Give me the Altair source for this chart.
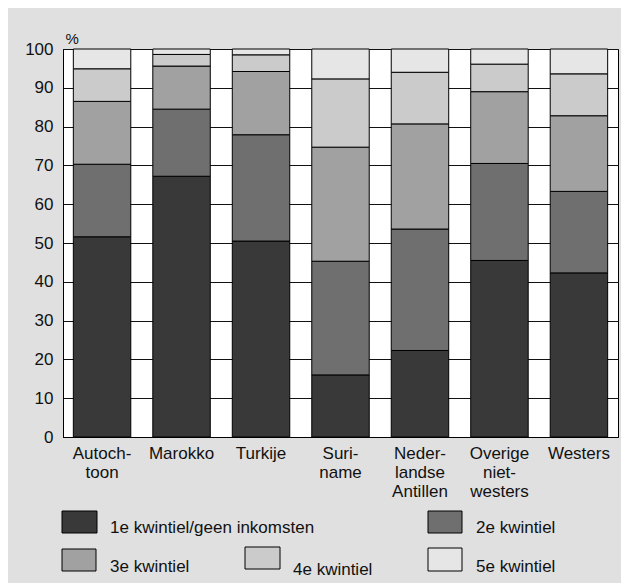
import altair as alt
import pandas as pd

categories = ["Autoch-|toon", "Marokko", "Turkije", "Suri-|name",
              "Neder-|landse|Antillen", "Overige|niet-|westers", "Westers"]
series = ["1e kwintiel/geen inkomsten", "2e kwintiel", "3e kwintiel",
          "4e kwintiel", "5e kwintiel"]
colors = ["#393939", "#6f6f6f", "#a1a1a1", "#cbcbcb", "#e6e6e6"]

q1 = [51.6, 67.2, 50.5, 16.0, 22.3, 45.5, 42.3]
q2 = [18.7, 17.3, 27.4, 29.3, 31.3, 25.0, 21.0]
q3 = [16.2, 11.1, 16.3, 29.4, 27.1, 18.5, 19.5]
q4 = [8.4, 3.0, 4.3, 17.6, 13.3, 7.1, 10.8]
q5 = [5.1, 1.4, 1.5, 7.7, 6.0, 3.9, 6.4]
values = [q1, q2, q3, q4, q5]

rows = []
for si, (s, vals) in enumerate(zip(series, values)):
    for c, v in zip(categories, vals):
        rows.append({"herkomst": c, "kwintiel": s, "pct": v, "order": si})
df = pd.DataFrame(rows)

FONT = "Liberation Sans"

bars = alt.Chart(df).mark_bar(stroke="#000", strokeWidth=1).encode(
    x=alt.X("herkomst:N", sort=categories,
            scale=alt.Scale(paddingInner=0.277, paddingOuter=0.13),
            axis=alt.Axis(title=None, labelAngle=0, ticks=False,
                          labelExpr="split(datum.label, '|')",
                          labelFontSize=17, labelFont=FONT, labelColor="#111",
                          labelLineHeight=19, labelPadding=8,
                          labelBaseline="top",
                          domainColor="#000", domainWidth=1)),
    y=alt.Y("pct:Q", stack="zero",
            scale=alt.Scale(domain=[0, 100], nice=False),
            axis=alt.Axis(values=list(range(0, 101, 10)), ticks=False,
                          grid=True, gridColor="#111", gridWidth=1,
                          labelFontSize=17, labelFont=FONT, labelColor="#111",
                          labelPadding=10, domainColor="#000",
                          title="%", titleAngle=0, titleX=2, titleY=-11,
                          titleAlign="left", titleBaseline="middle",
                          titleFont=FONT, titleFontSize=15,
                          titleFontWeight="normal", titleColor="#111")),
    color=alt.Color("kwintiel:N", sort=series,
                    scale=alt.Scale(domain=series, range=colors),
                    legend=None),
    order=alt.Order("order:Q", sort="ascending"),
)

# custom legend laid out like the reference
legend_pos = [
    (-1, 34, 462, 484, 47, 479),
    (365, 399, 462, 484, 413, 479),
    (-1, 33, 500, 522, 47, 518),
    (182, 217, 498, 520, 230, 521),
    (365, 399, 499, 522, 413, 518),
]
layers = [bars]
for s, col, (x1, x2, y1, y2, tx, ty) in zip(series, colors, legend_pos):
    d = pd.DataFrame({"kwintiel": [s]})
    layers.append(alt.Chart(d).mark_rect(fill=col, stroke="#000", strokeWidth=1).encode(
        x=alt.value(x1), x2=alt.value(x2), y=alt.value(y1), y2=alt.value(y2)))
    layers.append(alt.Chart(d).mark_text(align="left", baseline="middle",
                                         font=FONT, fontSize=17, color="#111").encode(
        x=alt.value(tx), y=alt.value(ty), text="kwintiel:N"))

chart = alt.layer(*layers).properties(
    width=555, height=388,
    padding={"left": 55, "top": 41, "right": 3, "bottom": 146},
    autosize=alt.AutoSizeParams(type="none"),
    background="#e0e0e0",
).configure_view(stroke="#000", strokeWidth=1, fill="#ffffff")

chart.save("out.html", embed_options={"renderer": "svg", "actions": False})
